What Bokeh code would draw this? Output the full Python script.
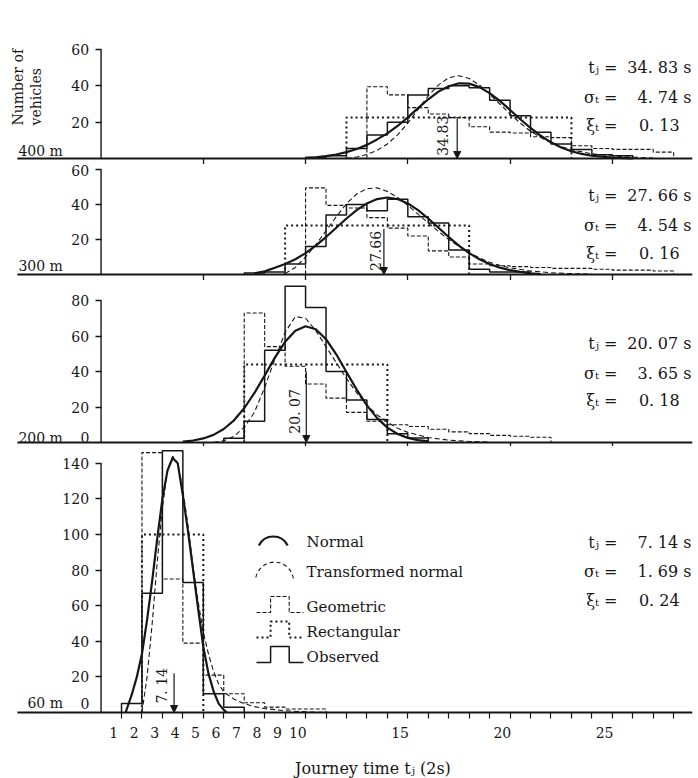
import math
from bokeh.plotting import figure
from bokeh.models import Range1d, LinearAxis, FixedTicker, Label, Arrow, NormalHead
from bokeh.layouts import column
from bokeh.embed import file_html
from bokeh.resources import INLINE

# ---------------- data ----------------
distances = ["400 m", "300 m", "200 m", "60 m"]
mean_tj = [34.83, 27.66, 20.07, 7.14]      # s
sigma_t = [4.74, 4.54, 3.65, 1.69]         # s
xi_t = [0.13, 0.16, 0.18, 0.24]
mean_labels = ["34.83", "27.66", "20. 07", "7. 14"]

y_ticks_400 = [20, 40, 60]
y_ticks_300 = [20, 40, 60]
y_ticks_200 = [20, 40, 60, 80]
y_ticks_60 = [20, 40, 60, 80, 100, 120, 140]
x_ticks_top = [5, 10, 15, 20, 25]
x_tick_labels = [1, 2, 3, 4, 5, 6, 7, 8, 9, 10, 15, 20, 25]
x_minor_ticks = list(range(1, 29))

legend_names = ["Normal", "Transformed normal", "Geometric", "Rectangular", "Observed"]

# 400 m
obs_400_first = 10
obs_400 = [0.5, 1.5, 5.5, 13, 20, 35, 38.5, 40, 39, 32, 23.5, 14.5, 8, 5, 2, 1.5]
geo_400_first = 13
geo_400 = [39.5, 35, 28, 24.5, 22.5, 17.5, 14.5, 14, 12, 11.5, 7, 5.5, 5, 5, 3.5]
rect_400_first = 12
rect_400 = [22.5, 22.5, 22.5, 22.5, 22.5, 22.5, 22.5, 22.5, 22.5, 22.5, 22.5]
norm_400_x = [10, 10.5, 11, 11.5, 12, 12.5, 13, 13.5, 14, 14.5, 15, 15.5, 16, 16.5, 17, 17.5,
              18, 18.5, 19, 19.5, 20, 20.5, 21, 21.5, 22, 22.5, 23, 23.5, 24, 25, 26]
norm_400_y = [0.3, 0.6, 1.3, 2.2, 3.5, 5.2, 7.5, 10.5, 13.8, 17.9, 22.6, 27.7, 32.6, 36.8, 39.8, 41.4,
              41.2, 39.3, 36.0, 31.7, 26.7, 21.6, 16.8, 12.5, 8.9, 6.1, 4.0, 2.5, 1.5, 0.5, 0.1]
trans_400_x = [12, 12.5, 13, 13.5, 14, 14.5, 15, 15.5, 16, 16.5, 17, 17.5, 18, 18.5, 19, 19.5,
               20, 20.5, 21, 21.5, 22, 22.5, 23, 24, 25, 26, 27]
trans_400_y = [0, 0.8, 2.2, 4.5, 8, 13, 19.5, 27, 34.5, 40.5, 44.5, 45.5, 44, 40.5, 35.5, 30,
               24.5, 19.5, 15, 11.5, 8.7, 6.5, 4.8, 2.6, 1.4, 0.7, 0.3]

# 300 m
obs_300_first = 7
obs_300 = [0.8, 1.5, 6, 16, 34, 40, 36.5, 43, 33, 29.5, 14, 3, 1.5, 1.5]
geo_300_first = 10
geo_300 = [49.5, 39.5, 38, 32.5, 26.5, 22, 13.5, 10, 6, 5, 4.5, 4, 3.5, 3.5, 3, 2.5, 2.5, 2]
rect_300_first = 9
rect_300 = [28, 28, 28, 28, 28, 28, 28, 28, 28]
norm_300_x = [7.5, 8, 8.5, 9, 9.5, 10, 10.5, 11, 11.5, 12, 12.5, 13, 13.5, 14, 14.5, 15, 15.5,
              16, 16.5, 17, 17.5, 18, 18.5, 19, 19.5, 20, 20.5, 21, 21.5]
norm_300_y = [0.6, 1.8, 3.9, 6.0, 8.7, 12.2, 16.5, 21.4, 26.7, 32.0, 36.8, 40.6, 43.1, 44, 43.1, 40.6,
              36.8, 32.0, 26.7, 21.4, 16.5, 12.2, 8.7, 6.0, 3.9, 2.5, 1.5, 0.6, 0.2]
trans_300_x = [9, 9.5, 10, 10.5, 11, 11.5, 12, 12.5, 13, 13.5, 14, 14.5, 15, 15.5, 16, 16.5, 17,
               17.5, 18, 18.5, 19, 19.5, 20, 21, 22, 23, 24]
trans_300_y = [0.5, 4, 10, 17, 25, 33, 40.5, 46, 49, 49.5, 47.5, 44, 39.5, 34.5, 29.5, 24.5, 20,
               16, 12.5, 9.5, 7, 5.2, 3.8, 2, 1, 0.5, 0.2]

# 200 m
obs_200_first = 6
obs_200 = [2.4, 12, 52, 88, 76, 40, 24, 13, 5, 2.5]
geo_200_first = 7
geo_200 = [73, 54, 43, 33, 25, 17, 12, 10, 9, 7.5, 6, 5, 4, 3.5, 3]
rect_200_first = 7
rect_200 = [44, 44, 44, 44, 44, 44, 44]
norm_200_x = [4, 4.5, 5, 5.5, 6, 6.5, 7, 7.5, 8, 8.5, 9, 9.5, 10, 10.5, 11, 11.5, 12, 12.5, 13,
              13.5, 14, 14.5, 15, 15.5, 16]
norm_200_y = [0.5, 1.1, 2.3, 4.3, 7.6, 12.5, 19.3, 27.9, 37.7, 47.8, 56.7, 62.9, 65.5, 63.8, 58.2,
              49.7, 39.7, 29.8, 20.9, 13.7, 8.4, 4.8, 2.6, 1.3, 0.6]
trans_200_x = [5.5, 6, 6.5, 7, 7.5, 8, 8.5, 9, 9.5, 10, 10.5, 11, 11.5, 12, 12.5, 13, 13.5, 14,
               14.5, 15, 16, 17, 18, 19]
trans_200_y = [0, 1, 3.5, 8.5, 17, 31, 47, 62, 71, 70, 63, 54, 45, 36, 28, 21, 15.5, 11.5, 8, 5.7,
               2.8, 1.3, 0.6, 0.2]

# 60 m
obs_60_first = 1
obs_60 = [5, 67, 147, 73, 10.5, 3]
geo_60_first = 2
geo_60 = [146, 75, 39, 21, 10.5, 5.5, 3, 2, 2]
rect_60_first = 2
rect_60 = [100, 100, 100]
norm_60_x = [1.2, 1.5, 1.75, 2, 2.25, 2.5, 2.75, 3, 3.25, 3.5, 3.75, 4, 4.25, 4.5, 4.75, 5, 5.25,
             5.5, 5.75, 6, 6.15]
norm_60_y = [0, 10, 20, 33, 52, 74, 98, 120, 136, 143, 140, 122, 102, 80, 58, 37, 22, 12, 5, 1.5, 0]
trans_60_x = [2, 2.25, 2.5, 2.75, 3, 3.25, 3.5, 3.75, 4, 4.25, 4.5, 4.75, 5, 5.25, 5.5, 5.75, 6,
              6.5, 7, 7.5, 8, 9, 10, 11]
trans_60_y = [0, 20, 50, 85, 115, 136, 144, 140, 125, 105, 82, 62, 45, 33, 23, 16, 11.5, 7.5, 5,
              3.3, 2.2, 1, 0.4, 0]

# ---------------- styling / layout ----------------
INK = "#161616"
SERIF = "DejaVu Serif"
X_RANGE = (-4.917, 28.92)      # frame spans the whole width (0..692 px)
BASE_X = (-4.09, 28.92)        # extent of the drawn base line
DOTS = "2 3"
DASH = "4 2"


def step_xy(first, vals):
    xs, ys = [first], [0]
    for i, v in enumerate(vals):
        xs += [first + i, first + i + 1]
        ys += [v, v]
    xs.append(first + len(vals))
    ys.append(0)
    return xs, ys


def fmt(v):
    return f"{v:.2f}".replace(".", ". ")


def make_panel(k, top_px, bottom_px, base_px, scale, yticks, obs_first, obs, geo_first, geo,
               rect_first, rect, nx, ny, tx, ty, stat_y, arrow_top, mlab_y, mlab_off,
               dist_x, dist_y, zero_y=None, bottom=False):
    p = figure(width=698, height=bottom_px - top_px,
               x_range=Range1d(*X_RANGE),
               y_range=Range1d((base_px - bottom_px) / scale, (base_px - top_px) / scale),
               x_axis_type=None, y_axis_type=None, toolbar_location=None,
               output_backend="svg", title=None,
               min_border_left=0, min_border_right=6, min_border_top=0, min_border_bottom=0)
    p.outline_line_color = None
    p.background_fill_color = "white"
    p.border_fill_color = "white"

    # rectangular, geometric, observed steps
    xs, ys = step_xy(rect_first, rect)
    p.line(xs, ys, line_color=INK, line_width=2, line_dash=DOTS)
    xs, ys = step_xy(geo_first, geo)
    p.line(xs, ys, line_color=INK, line_width=1.1, line_dash=DASH)
    xs, ys = step_xy(obs_first, obs)
    p.line(xs, ys, line_color=INK, line_width=1.5)
    # fitted curves
    p.line(tx, ty, line_color=INK, line_width=1.1, line_dash="5 3")
    p.line(nx, ny, line_color=INK, line_width=2.2)

    # y axis at x = 0
    yax = LinearAxis(fixed_location=0, ticker=FixedTicker(ticks=yticks),
                     axis_line_color=None, major_tick_out=6, major_tick_in=0,
                     minor_tick_out=0, major_tick_line_color=INK, major_tick_line_width=1.3,
                     major_label_standoff=6, major_label_text_font=SERIF,
                     major_label_text_font_size="14px", major_label_text_color=INK)
    p.add_layout(yax, "left")
    p.segment(x0=[0], y0=[0], x1=[0], y1=[max(yticks)], line_color=INK, line_width=1.4)

    # base line
    p.segment(x0=[BASE_X[0]], y0=[0], x1=[BASE_X[1]], y1=[0], line_color=INK, line_width=1.8)

    # x axis ticks
    if not bottom:
        xax = LinearAxis(fixed_location=0, ticker=FixedTicker(ticks=x_ticks_top),
                         major_label_overrides={t: "" for t in x_ticks_top},
                         major_label_text_font_size="0px", major_label_standoff=0,
                         axis_line_color=None,
                         major_tick_out=6, major_tick_in=0, minor_tick_out=0,
                         major_tick_line_color=INK, major_tick_line_width=1.3)
    else:
        lab_ticks = [round(v - 0.38, 2) for v in x_tick_labels]
        xax = LinearAxis(fixed_location=0,
                         ticker=FixedTicker(ticks=lab_ticks, minor_ticks=x_minor_ticks),
                         major_label_overrides={t: str(v) for t, v in zip(lab_ticks, x_tick_labels)},
                         axis_line_color=None,
                         major_tick_line_color=None, major_tick_out=6, major_tick_in=0,
                         minor_tick_out=6, minor_tick_in=0, minor_tick_line_color=INK,
                         minor_tick_line_width=1.2, major_label_standoff=8,
                         major_label_text_font=SERIF, major_label_text_font_size="14px",
                         major_label_text_color=INK)
    p.add_layout(xax, "below")

    # distance label and optional zero label
    p.add_layout(Label(x=dist_x, y=dist_y, text=distances[k], text_font=SERIF,
                       text_font_size="14px", text_color=INK, text_baseline="middle"))
    if zero_y is not None:
        p.add_layout(Label(x=-0.565, y=zero_y, text="0", text_font=SERIF, text_font_size="14px",
                           text_color=INK, text_align="right", text_baseline="middle"))

    # mean arrow and rotated value
    xm = mean_tj[k] / 2.0
    p.add_layout(Arrow(end=NormalHead(size=7, fill_color=INK, line_color=INK),
                       x_start=xm, y_start=arrow_top, x_end=xm, y_end=0,
                       line_color=INK, line_width=1.2))
    p.add_layout(Label(x=xm - mlab_off, y=mlab_y, text=mean_labels[k], angle=math.pi / 2,
                       text_font=SERIF, text_font_size="14px", text_color=INK,
                       text_align="left", text_baseline="middle"))

    # statistics text
    names = ["t\u2c7c =", "\u03c3\u209c =", "\u03be\u209c ="]
    vals = [fmt(mean_tj[k]) + " s", fmt(sigma_t[k]) + " s", fmt(xi_t[k])]
    vx = [28.87, 28.87, 28.29]
    for name, val, yy, xx in zip(names, vals, stat_y, vx):
        p.add_layout(Label(x=25.25, y=yy, text=name, text_font=SERIF, text_font_size="16px",
                           text_color=INK, text_align="right", text_baseline="middle"))
        p.add_layout(Label(x=xx, y=yy, text=val, text_font=SERIF, text_font_size="16px",
                           text_color=INK, text_align="right", text_baseline="middle"))
    return p


p1 = make_panel(0, 0, 164, 158, 1.817, y_ticks_400, obs_400_first, obs_400, geo_400_first, geo_400,
                rect_400_first, rect_400, norm_400_x, norm_400_y, trans_400_x, trans_400_y,
                [50.2, 33.7, 18.2], 22, 1.5, 0.7, -4.04, 4.4)
p1.add_layout(Label(x=-4.06, y=18.2, text="Number of", angle=math.pi / 2, text_font=SERIF,
                    text_font_size="14px", text_color=INK, text_align="left", text_baseline="middle"))
p1.add_layout(Label(x=-3.17, y=18.2, text="vehicles", angle=math.pi / 2, text_font=SERIF,
                    text_font_size="14px", text_color=INK, text_align="left", text_baseline="middle"))

p2 = make_panel(1, 164, 280, 274, 1.75, y_ticks_300, obs_300_first, obs_300, geo_300_first, geo_300,
                rect_300_first, rect_300, norm_300_x, norm_300_y, trans_300_x, trans_300_y,
                [45.1, 28.0, 12.0], 26, 2, 0.4, -4.04, 4.6)

p3 = make_panel(2, 280, 446, 442, 1.775, y_ticks_200, obs_200_first, obs_200, geo_200_first, geo_200,
                rect_200_first, rect_200, norm_200_x, norm_200_y, trans_200_x, trans_200_y,
                [55.8, 38.9, 23.7], 40, 5, 0.55, -4.04, 2.8, zero_y=2.8)

p4 = make_panel(3, 446, 778, 712, 1.78, y_ticks_60, obs_60_first, obs_60, geo_60_first, geo_60,
                rect_60_first, rect_60, norm_60_x, norm_60_y, trans_60_x, trans_60_y,
                [95.7, 79.2, 62.9], 22, 5, 0.57, -3.6, 5.1, zero_y=5.1, bottom=True)

# axis title
p4.add_layout(Label(x=13.42, y=-31.5, text="Journey time  t\u2c7c (2s)", text_font=SERIF,
                    text_font_size="16px", text_color=INK, text_align="center",
                    text_baseline="middle"))

# legend (custom symbols)
leg_rows = [95.7, 79.2, 59.2, 45.1, 31.1]
p4.arc(x=[8.42], y=[leg_rows[0] - 5.8], radius=16, radius_units="screen",
       start_angle=math.radians(26), end_angle=math.radians(154), line_color=INK, line_width=2.2)
p4.arc(x=[8.48], y=[leg_rows[1] - 5.4], radius=19, radius_units="screen",
       start_angle=math.radians(8), end_angle=math.radians(172), line_color=INK, line_width=1.1,
       line_dash="4 3")
pulse_x = [7.6, 8.29, 8.29, 9.2, 9.2, 9.9]
for row, dash, lw in [(leg_rows[2], DASH, 1.1), (leg_rows[3], DOTS, 2), (leg_rows[4], "solid", 1.5)]:
    p4.line(pulse_x, [row - 3, row - 3, row + 6, row + 6, row - 3, row - 3],
            line_color=INK, line_width=lw, line_dash=dash)
for name, row in zip(legend_names, leg_rows):
    p4.add_layout(Label(x=10.05, y=row, text=name, text_font=SERIF, text_font_size="15px",
                        text_color=INK, text_baseline="middle"))

layout = column(p1, p2, p3, p4, spacing=0)
open("out.html", "w").write(file_html(layout, INLINE))
